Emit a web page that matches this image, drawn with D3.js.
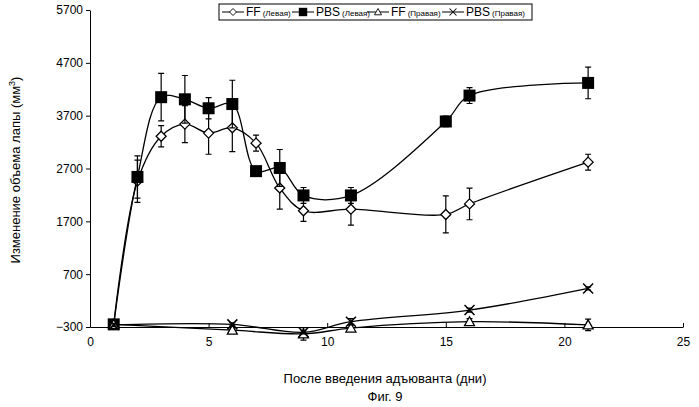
<!DOCTYPE html>
<html><head><meta charset="utf-8">
<script src="https://cdn.jsdelivr.net/npm/d3@7"></script>
<style>body{margin:0;background:#fff}text{font-family:Arial,"Liberation Sans",sans-serif;fill:#000}</style>
</head><body>
<svg width="699" height="407"></svg>
<script>
const days = [1, 2, 3, 4, 5, 6, 7, 8, 9, 11, 15, 16, 21];
const ffLeft  = [-250, 2460, 3310, 3540, 3370, 3470, 3180, 2330, 1900, 1930, 1830, 2030, 2820];
const ffLeftErr = [50, 400, 200, 350, 400, 450, 150, 400, 200, 300, 350, 300, 150];
const pbsLeft = [-250, 2540, 4050, 4010, 3840, 3920, 2650, 2710, 2190, 2190, 3590, 4080, 4320];
const pbsLeftErr = [50, 400, 450, 450, 200, 450, 50, 350, 150, 150, 100, 150, 300];
const lowDays = [1, 6, 9, 11, 16, 21];
const ffRight = [-250, -360, -430, -320, -200, -260];
const ffRightErr = [30, 50, 120, 60, 60, 110];
const pbsRight = [-260, -250, -400, -200, 20, 430];
const pbsRightErr = [30, 30, 30, 60, 40, 30];
const yTicks = [-300, 700, 1700, 2700, 3700, 4700, 5700];
const xTicks = [0, 5, 10, 15, 20, 25];

const svg = d3.select('svg');
const m = {left: 90, right: 683, top: 10, bottom: 327};
const x = d3.scaleLinear().domain([0, 25]).range([m.left, m.right]);
const y = d3.scaleLinear().domain([-300, 5700]).range([m.bottom, m.top]);

const yAxis = svg.append('g').attr('transform', `translate(${m.left},0)`)
  .call(d3.axisLeft(y).tickValues(yTicks).tickFormat(d3.format('d')).tickSize(4).tickSizeOuter(0));
const xAxis = svg.append('g').attr('transform', `translate(0,${m.bottom})`)
  .call(d3.axisBottom(x).tickValues(xTicks).tickSize(-4).tickSizeOuter(0).tickPadding(10));
[xAxis, yAxis].forEach(a => {
  a.selectAll('text').attr('font-size', 12).attr('fill', '#000');
  a.selectAll('line,path').attr('stroke', '#000');
});

const line = d3.line().curve(d3.curveCatmullRom.alpha(0.5)).x(d => x(d[0])).y(d => y(d[1]));

const series = [
  {xs: days, v: ffLeft, e: ffLeftErr, sym: 'diamond'},
  {xs: days, v: pbsLeft, e: pbsLeftErr, sym: 'square'},
  {xs: lowDays, v: ffRight, e: ffRightErr, sym: 'triangle'},
  {xs: lowDays, v: pbsRight, e: pbsRightErr, sym: 'cross'}
];

function marker(g, sym, cx, cy) {
  if (sym === 'diamond') g.append('path').attr('d', `M${cx},${cy-5}L${cx+5},${cy}L${cx},${cy+5}L${cx-5},${cy}Z`).attr('fill', '#fff').attr('stroke', '#000').attr('stroke-width', 1.3);
  if (sym === 'square') g.append('rect').attr('x', cx-6).attr('y', cy-6).attr('width', 12).attr('height', 12).attr('fill', '#000');
  if (sym === 'triangle') g.append('path').attr('d', `M${cx},${cy-5}L${cx+5},${cy+4}L${cx-5},${cy+4}Z`).attr('fill', '#fff').attr('stroke', '#000').attr('stroke-width', 1.3);
  if (sym === 'cross') g.append('path').attr('d', `M${cx-5},${cy-5}L${cx+5},${cy+5}M${cx+5},${cy-5}L${cx-5},${cy+5}`).attr('stroke', '#000').attr('stroke-width', 1.5);
}

series.forEach(s => {
  const pts = s.xs.map((d, i) => [d, s.v[i]]);
  svg.append('path').attr('d', line(pts)).attr('fill', 'none').attr('stroke', '#000').attr('stroke-width', 1.3);
  const g = svg.append('g');
  pts.forEach((p, i) => {
    const cx = x(p[0]), y1 = y(p[1] + s.e[i]), y2 = y(p[1] - s.e[i]);
    g.append('path').attr('d', `M${cx},${y1}V${y2}M${cx-3},${y1}H${cx+3}M${cx-3},${y2}H${cx+3}`).attr('stroke', '#000').attr('stroke-width', 1.2);
    marker(g, s.sym, cx, y(p[1]));
  });
});

// legend
const lg = svg.append('g');
lg.append('rect').attr('x', 219).attr('y', 4).attr('width', 313).attr('height', 16).attr('fill', '#fff').attr('stroke', '#000');
const items = [['FF', '(Левая)', 'diamond', 222], ['PBS', '(Левая)', 'square', 292], ['FF', '(Правая)', 'triangle', 367], ['PBS', '(Правая)', 'cross', 442]];
items.forEach(([a, b, sym, lx]) => {
  lg.append('line').attr('x1', lx).attr('x2', lx + 22).attr('y1', 12).attr('y2', 12).attr('stroke', '#000');
  const mg = lg.append('g').attr('transform', `translate(${lx+11},12) scale(0.7)`);
  marker(mg, sym, 0, 0);
  const t = lg.append('text').attr('x', lx + 24).attr('y', 16).attr('font-size', 12);
  t.append('tspan').text(a);
  t.append('tspan').attr('font-size', 8).attr('dx', 2).text(b);
});

const yt = svg.append('text').attr('transform', 'translate(20,170) rotate(-90)').attr('text-anchor', 'middle').attr('font-size', 13);
yt.append('tspan').text('Изменение объема лапы (мм');
yt.append('tspan').attr('font-size', 9).attr('dy', -5).text('3');
yt.append('tspan').attr('dy', 5).text(')');
svg.append('text').attr('x', 385).attr('y', 383).attr('text-anchor', 'middle').attr('font-size', 13).text('После введения адъюванта (дни)');
svg.append('text').attr('x', 385).attr('y', 401).attr('text-anchor', 'middle').attr('font-size', 13).text('Фиг. 9');
</script>
</body></html>
